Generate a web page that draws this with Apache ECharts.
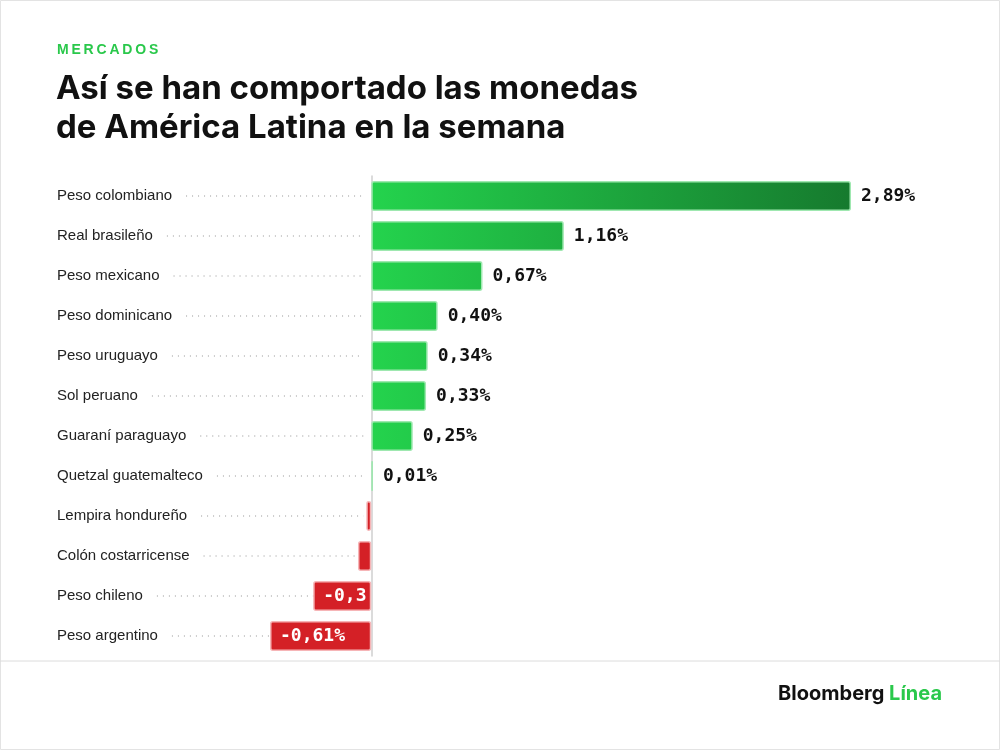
<!DOCTYPE html>
<html lang="es">
<head>
<meta charset="UTF-8">
<script src="https://cdn.jsdelivr.net/npm/echarts@6/dist/echarts.min.js"></script>
<style>
  body { margin: 0; background: #fff; }
  #chart { width: 1000px; height: 750px; }
</style>
</head>
<body>
<div id="chart"></div>
<script>
  const categories = ['Peso colombiano', 'Real brasileño', 'Peso mexicano', 'Peso dominicano', 'Peso uruguayo',
    'Sol peruano', 'Guaraní paraguayo', 'Quetzal guatemalteco', 'Lempira hondureño', 'Colón costarricense',
    'Peso chileno', 'Peso argentino']
  const values = [2.89, 1.16, 0.67, 0.40, 0.34, 0.33, 0.25, 0.01, -0.03, -0.08, -0.35, -0.61]

  const chart = echarts.init(document.getElementById('chart'))
  const gridLeft = 270, gridRight = 149
  const xMin = -0.61, xMax = 2.89
  const pxPerUnit = (1000 - gridLeft - gridRight) / (xMax - xMin)
  const zeroX = gridLeft - xMin * pxPerUnit

  // medir texto para las líneas punteadas
  const ctx = document.createElement('canvas').getContext('2d')
  ctx.font = '15px "Liberation Sans", Arial'
  const fmt = v => v.toFixed(2).replace('.', ',') + '%'

  chart.setOption({
    animation: false,
    graphic: [
      { type: 'rect', shape: { x: 0.5, y: 0.5, width: 999, height: 749 }, style: { fill: 'none', stroke: '#e3e3e3' } },
      { type: 'line', shape: { x1: 0, y1: 661, x2: 1000, y2: 661 }, style: { stroke: '#dcdcdc', lineWidth: 1 } },
      { type: 'text', left: 57, top: 43, style: { text: 'MERCADOS'.split('').join('\u2009'), fill: '#2ac84b', font: 'bold 14px "Liberation Sans", Arial' } },
      { type: 'text', left: 56, top: 70, style: { text: 'Así se han comportado las monedas\nde América Latina en la semana', fill: '#111', font: 'bold 33px Inter, "Liberation Sans"', lineHeight: 39 } },
      { type: 'text', right: 58, top: 684, style: { text: '{a|Bloomberg }{b|Línea}', rich: {
        a: { fill: '#111', font: 'bold 20px Inter, "Liberation Sans"' },
        b: { fill: '#2ac84b', font: 'bold 20px Inter, "Liberation Sans"' } } } }
    ],
    grid: { left: gridLeft, right: gridRight, top: 176, height: 480, outerBoundsMode: 'none', containLabel: false },
    xAxis: { type: 'value', min: xMin, max: xMax, show: false },
    yAxis: {
      type: 'category', data: categories, inverse: true,
      axisLine: { onZero: true, lineStyle: { color: '#cfcfcf', width: 1.5 } },
      axisTick: { show: false },
      axisLabel: { align: 'left', margin: gridLeft - 57, color: '#222', fontSize: 15, fontFamily: '"Liberation Sans", Arial' }
    },
    series: [
      {
        type: 'custom',
        renderItem: (params, api) => {
          const i = api.value(0)
          const p = api.coord([0, i])
          const x1 = 57 + ctx.measureText(categories[i]).width + 14
          return { type: 'line', shape: { x1: x1, y1: p[1], x2: zeroX - 8, y2: p[1] },
            style: { stroke: '#b8b8b8', lineWidth: 1.3, lineDash: [1, 5] } }
        },
        data: categories.map((c, i) => [i]),
        silent: true, z: 1
      },
      {
        type: 'bar', barWidth: 30, z: 3,
        data: values.map(v => {
          const neg = v < 0
          const w = Math.abs(v) * pxPerUnit
          return {
            value: v,
            itemStyle: neg
              ? { color: '#d42026', borderColor: '#f6b5b7', borderWidth: 1.5, borderRadius: 2 }
              : { color: new echarts.graphic.LinearGradient(zeroX, 0, zeroX + 2.89 * pxPerUnit, 0,
                    [{ offset: 0, color: '#24d34d' }, { offset: 1, color: '#167a2e' }], true),
                  borderColor: '#9fe8b0', borderWidth: 1.5, borderRadius: 2 },
            label: neg
              ? { show: true, position: 'insideLeft', color: '#fff', distance: 10,
                  width: Math.max(w - 12, 1), overflow: 'truncate', ellipsis: '' }
              : { show: true, position: 'right', color: '#111', distance: 10 }
          }
        }),
        label: {
          formatter: p => fmt(p.value),
          fontFamily: '"DejaVu Sans Mono", monospace', fontWeight: 'bold', fontSize: 18
        }
      }
    ]
  })
</script>
</body>
</html>
